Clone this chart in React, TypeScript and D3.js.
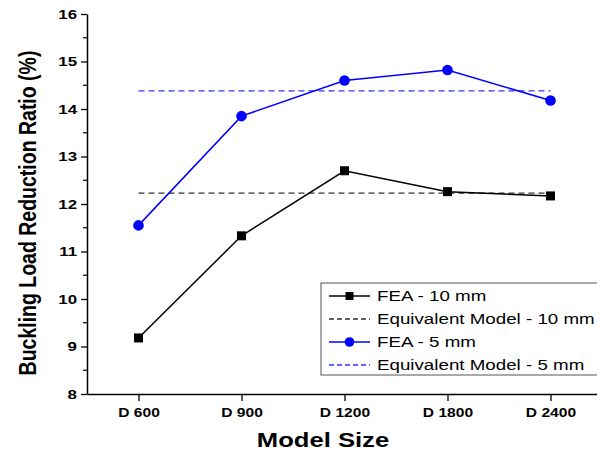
import React, { useRef, useEffect } from 'react';
import * as d3 from 'd3';

// categories and values
const modelSizes = ['D 600', 'D 900', 'D 1200', 'D 1800', 'D 2400'];
const fea10 = [9.18, 11.33, 12.7, 12.26, 12.17];
const fea5 = [11.55, 13.85, 14.6, 14.82, 14.18];
const equiv10 = 12.23;
const equiv5 = 14.38;
const yTicks = [8, 9, 10, 11, 12, 13, 14, 15, 16];
const legendLabels = [
  'FEA - 10 mm',
  'Equivalent Model - 10 mm',
  'FEA - 5 mm',
  'Equivalent Model - 5 mm',
];

const App = () => {
  const chartRef = useRef<SVGSVGElement | null>(null);

  useEffect(() => {
    const W = 605;
    const H = 455;
    const margin = { top: 14, right: 3, bottom: 61, left: 87 };
    const sx = 1.25; // the original picture is stretched horizontally
    const svg = d3.select(chartRef.current);
    svg.selectAll('*').remove();

    const font = 'Liberation Sans, Arial, sans-serif';

    //scales: index based so the axis runs half a step beyond first / last category
    const x = d3
      .scaleLinear()
      .domain([-0.5, modelSizes.length - 0.5])
      .range([margin.left, W - margin.right]);
    const y = d3
      .scaleLinear()
      .domain([8, 16])
      .range([H - margin.bottom, margin.top]);

    // x axis
    svg
      .append('g')
      .attr('transform', `translate(0, ${H - margin.bottom})`)
      .call(
        d3
          .axisBottom(x)
          .tickValues(d3.range(modelSizes.length))
          .tickFormat((i) => modelSizes[+i])
          .tickSizeInner(7)
          .tickSizeOuter(0)
          .tickPadding(7)
      )
      .call((g) => g.select('.domain').attr('stroke', '#000').attr('stroke-width', 1.5))
      .call((g) => g.selectAll('.tick line').attr('stroke', '#000').attr('stroke-width', 1.3))
      .call((g) =>
        g
          .selectAll('text')
          .attr('fill', '#000')
          .attr('font-family', font)
          .attr('font-weight', 'bold')
          .attr('font-size', '12.5px')
          .attr('transform', `scale(${sx},1)`)
      );

    // y minor ticks
    svg
      .append('g')
      .selectAll('line')
      .data(d3.range(8.5, 16, 1))
      .join('line')
      .attr('x1', margin.left - 4)
      .attr('x2', margin.left)
      .attr('y1', (d) => y(d))
      .attr('y2', (d) => y(d))
      .attr('stroke', '#000')
      .attr('stroke-width', 1.2);

    // y axis
    svg
      .append('g')
      .attr('transform', `translate(${margin.left}, 0)`)
      .call(d3.axisLeft(y).tickValues(yTicks).tickSizeInner(6).tickSizeOuter(0).tickPadding(2))
      .call((g) => g.select('.domain').attr('stroke', '#000').attr('stroke-width', 1.5))
      .call((g) => g.selectAll('.tick line').attr('stroke', '#000').attr('stroke-width', 1.3))
      .call((g) =>
        g
          .selectAll('text')
          .attr('fill', '#000')
          .attr('font-family', font)
          .attr('font-weight', 'bold')
          .attr('font-size', '13.5px')
          .attr('transform', `scale(${sx},1)`)
      );

    // axis titles
    svg
      .append('text')
      .attr('transform', `translate(323, 447) scale(${sx},1)`)
      .attr('text-anchor', 'middle')
      .attr('font-family', font)
      .attr('font-weight', 'bold')
      .attr('font-size', '20.5px')
      .text('Model Size');
    svg
      .append('text')
      .attr('transform', `translate(36, 213) rotate(-90) scale(1,${sx})`)
      .attr('text-anchor', 'middle')
      .attr('font-family', font)
      .attr('font-weight', 'bold')
      .attr('font-size', '19.5px')
      .text('Buckling Load Reduction Ratio (%)');

    const line = d3
      .line<number>()
      .x((d, i) => x(i))
      .y((d) => y(d));

    // equivalent model lines
    svg
      .append('line')
      .attr('x1', x(0))
      .attr('x2', x(modelSizes.length - 1))
      .attr('y1', y(equiv10))
      .attr('y2', y(equiv10))
      .attr('stroke', '#333')
      .attr('stroke-width', 1.3)
      .attr('stroke-dasharray', '6 4');
    svg
      .append('line')
      .attr('x1', x(0))
      .attr('x2', x(modelSizes.length - 1))
      .attr('y1', y(equiv5))
      .attr('y2', y(equiv5))
      .attr('stroke', '#3333ff')
      .attr('stroke-width', 1.3)
      .attr('stroke-dasharray', '6 4');

    // FEA 10 mm
    svg
      .append('path')
      .datum(fea10)
      .attr('fill', 'none')
      .attr('stroke', '#000')
      .attr('stroke-width', 1.5)
      .attr('d', line);
    svg
      .append('g')
      .selectAll('rect')
      .data(fea10)
      .join('rect')
      .attr('x', (d, i) => x(i) - 4.5)
      .attr('y', (d) => y(d) - 4.5)
      .attr('width', 9)
      .attr('height', 9)
      .attr('fill', '#000');

    // FEA 5 mm
    svg
      .append('path')
      .datum(fea5)
      .attr('fill', 'none')
      .attr('stroke', '#0000ff')
      .attr('stroke-width', 1.5)
      .attr('d', line);
    svg
      .append('g')
      .selectAll('circle')
      .data(fea5)
      .join('circle')
      .attr('cx', (d, i) => x(i))
      .attr('cy', (d) => y(d))
      .attr('r', 5.3)
      .attr('fill', '#0000ff');

    // legend
    const lg = svg.append('g').attr('transform', 'translate(321, 283)');
    lg.append('rect')
      .attr('width', 281)
      .attr('height', 92)
      .attr('fill', '#fff')
      .attr('stroke', '#555')
      .attr('stroke-width', 1);
    const rows = lg
      .selectAll('g.row')
      .data(legendLabels)
      .join('g')
      .attr('class', 'row')
      .attr('transform', (d, i) => `translate(0, ${13 + i * 23})`);
    rows
      .append('line')
      .attr('x1', 8)
      .attr('x2', 49)
      .attr('stroke', (d, i) => (i < 2 ? (i === 0 ? '#000' : '#333') : i === 2 ? '#0000ff' : '#3333ff'))
      .attr('stroke-width', 1.3)
      .attr('stroke-dasharray', (d, i) => (i % 2 === 1 ? '5 3' : null));
    rows
      .filter((d, i) => i === 0)
      .append('rect')
      .attr('x', 24.5)
      .attr('y', -4)
      .attr('width', 8)
      .attr('height', 8)
      .attr('fill', '#000');
    rows
      .filter((d, i) => i === 2)
      .append('circle')
      .attr('cx', 28.5)
      .attr('r', 4.8)
      .attr('fill', '#0000ff');
    rows
      .append('text')
      .attr('transform', `translate(56, 0) scale(${sx},1)`)
      .attr('dy', '0.36em')
      .attr('font-family', font)
      .attr('font-size', '15px')
      .attr('fill', '#000')
      .text((d) => d);
  }, []);

  return (
    <div style={{ margin: -8 }}>
      <svg ref={chartRef} width={605} height={455} style={{ display: 'block', background: '#fff' }} />
    </div>
  );
};

export default App;
